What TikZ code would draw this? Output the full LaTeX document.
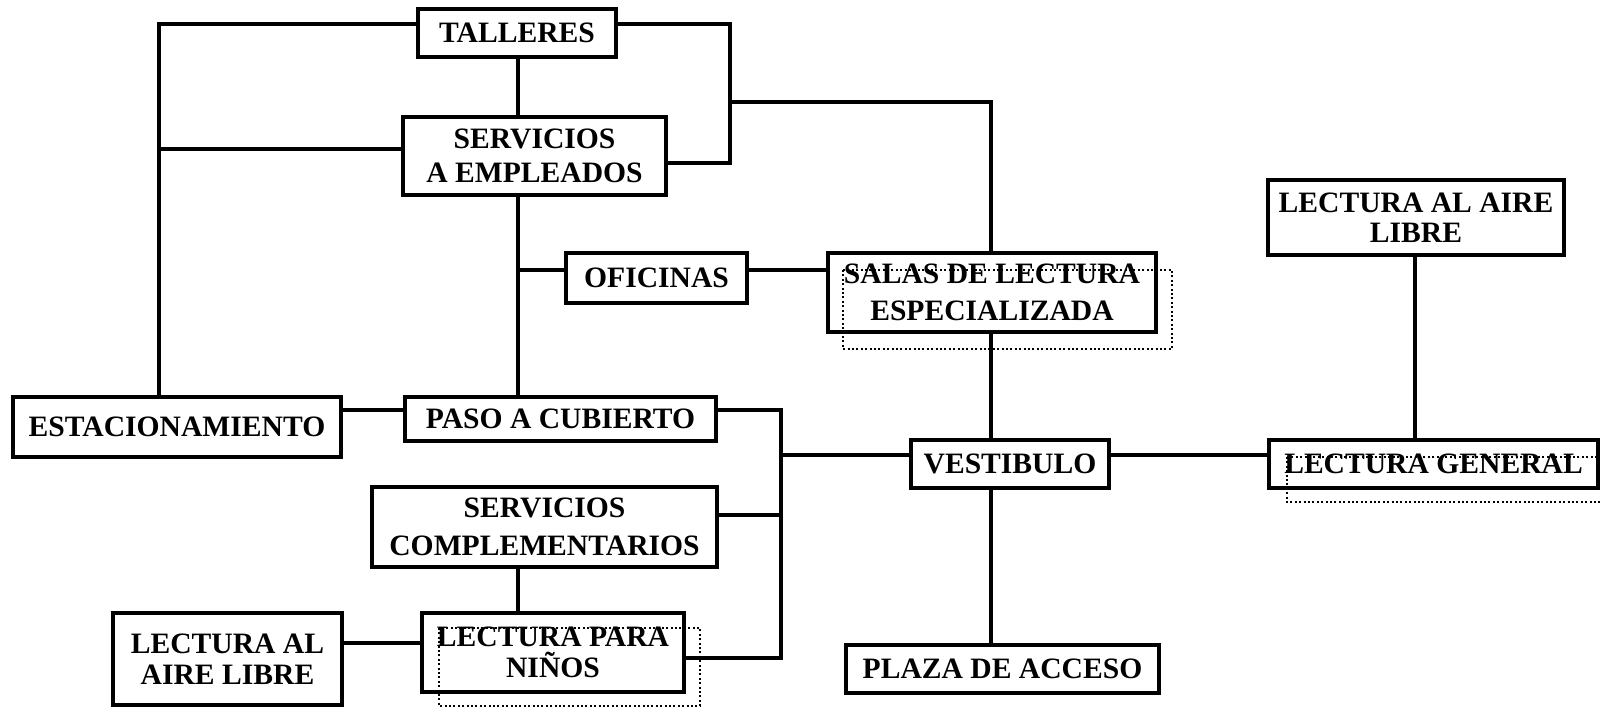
\documentclass[tikz,border=0pt]{standalone}
\usepackage{fontspec}
\setmainfont{Liberation Serif}
\begin{document}
\begin{tikzpicture}[x=0.5pt,y=-0.5pt,
  box/.style={draw, line width=1.8pt, inner sep=0pt, align=center,
    font=\bfseries\fontsize{14.8}{17}\selectfont},
  lsp/.style={font=\bfseries\fontsize{14.8}{#1}\selectfont},
  dotbox/.style={draw, line width=0.9pt, dash pattern=on 1pt off 1.2pt},
  conn/.style={line width=1.6pt}]
\useasboundingbox (0,0) rectangle (1600,707);
\fill[white] (0,0) rectangle (1600,707);

% nodes
\node[box, minimum width=99pt, minimum height=24pt] (tall) at (517,33) {TALLERES};
\node[box, lsp=17pt, minimum width=131.5pt, minimum height=39pt] (seremp) at (534.5,156) {SERVICIOS\\A EMPLEADOS};
\node[box, minimum width=90.5pt, minimum height=25pt] (ofic) at (656.5,278) {OFICINAS};
\node[box, lsp=18.5pt, minimum width=164pt, minimum height=39.5pt] (salas) at (992,292.5) {SALAS DE LECTURA\\ESPECIALIZADA};
\node[box, lsp=15pt, minimum width=148pt, minimum height=37.5pt] (lalr) at (1416,217.5) {LECTURA AL AIRE\\LIBRE};
\node[box, minimum width=164pt, minimum height=30pt] (estac) at (177,427) {ESTACIONAMIENTO};
\node[box, minimum width=155.5pt, minimum height=22pt] (paso) at (560.5,419) {PASO A CUBIERTO};
\node[box, lsp=19pt, minimum width=172.5pt, minimum height=40pt] (sercomp) at (544.5,527) {SERVICIOS\\COMPLEMENTARIOS};
\node[box, lsp=15.5pt, minimum width=131pt, minimum height=39.5pt] (lpn) at (553,652.5) {LECTURA PARA\\NIÑOS};
\node[box, lsp=15.5pt, minimum width=114.5pt, minimum height=46pt] (lall) at (227.5,659) {LECTURA AL\\AIRE LIBRE};
\node[box, minimum width=99pt, minimum height=24pt] (vest) at (1010,464) {VESTIBULO};
\node[box, minimum width=164.5pt, minimum height=24pt] (lgen) at (1433.5,464) {LECTURA GENERAL};
\node[box, minimum width=156.5pt, minimum height=24pt] (plaza) at (1002.5,669) {PLAZA DE ACCESO};

% dotted offset outlines
\draw[dotbox] (843,270) rectangle (1172,349);
\draw[dotbox] (439,628) rectangle (700,706);
\draw[dotbox] (1287,457) rectangle (1606,502);

% helper coordinates
\coordinate (cTL) at (159,24);
\coordinate (cML) at (159,149);
\coordinate (cTR) at (730,24);
\coordinate (cSR) at (730,163);
\coordinate (cTm) at (730,102);
\coordinate (cSalTop) at (991,102);
\coordinate (xA) at (518,0);
\coordinate (cOf) at (518,270);
\coordinate (xV) at (991,0);
\coordinate (yEP) at (0,410);
\coordinate (cPR) at (781,410);
\coordinate (cPB) at (781,658);
\coordinate (cPV) at (781,455);
\coordinate (cSC) at (781,515);
\coordinate (yLL) at (0,643);
\coordinate (xR) at (1415,0);

% connectors
\draw[conn] (tall.west|-cTL) -- (cTL) -- (cTL|-estac.north);
\draw[conn] (cML) -- (cML-|seremp.west);
\draw[conn] (tall.east|-cTR) -- (cTR) -- (cSR) -- (cSR-|seremp.east);
\draw[conn] (cTm) -- (cSalTop) -- (cSalTop|-salas.north);
\draw[conn] (tall.south-|xA) -- (seremp.north-|xA);
\draw[conn] (seremp.south-|xA) -- (paso.north-|xA);
\draw[conn] (cOf) -- (cOf-|ofic.west);
\draw[conn] (ofic.east|-cOf) -- (salas.west|-cOf);
\draw[conn] (salas.south-|xV) -- (vest.north-|xV);
\draw[conn] (vest.south-|xV) -- (plaza.north-|xV);
\draw[conn] (estac.east|-yEP) -- (paso.west|-yEP);
\draw[conn] (paso.east|-cPR) -- (cPR) -- (cPB) -- (lpn.east|-cPB);
\draw[conn] (cPV) -- (vest.west|-cPV);
\draw[conn] (sercomp.east|-cSC) -- (cSC);
\draw[conn] (sercomp.south-|xA) -- (lpn.north-|xA);
\draw[conn] (lall.east|-yLL) -- (lpn.west|-yLL);
\draw[conn] (vest.east|-cPV) -- (lgen.west|-cPV);
\draw[conn] (lalr.south-|xR) -- (lgen.north-|xR);
\end{tikzpicture}
\end{document}
